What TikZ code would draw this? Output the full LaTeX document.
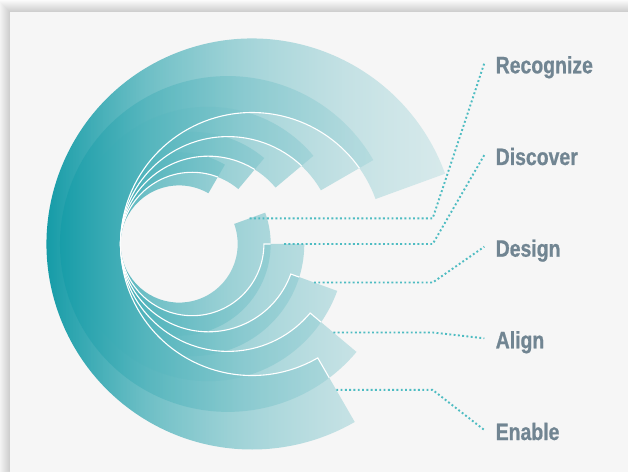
\documentclass[tikz,border=0pt]{standalone}
\usepackage{fontspec}
\usetikzlibrary{calc,fadings}
\newfontfamily\labfamily[FakeStretch=0.82,FakeBold=0.8]{Liberation Sans}
\definecolor{rc0}{RGB}{14,153,165}
\definecolor{rc1}{RGB}{84,181,189}
\definecolor{rc2}{RGB}{130,199,205}
\definecolor{rc3}{RGB}{160,211,216}
\definecolor{rc4}{RGB}{178,219,222}
\definecolor{cardbg}{RGB}{246,246,246}
\definecolor{labcol}{RGB}{113,133,146}
\definecolor{dotcol}{RGB}{78,188,194}
\pgfdeclarehorizontalshading{ringshade}{100bp}{color(0bp)=(rc0); color(25bp)=(rc0); color(37.5bp)=(rc1); color(50bp)=(rc2); color(62.5bp)=(rc3); color(75bp)=(rc4); color(100bp)=(rc4)}
\tikzfading[name=ringfade, left color=transparent!3, right color=transparent!55]
\newcommand\ringp[5]{([shift={(#4:#3)}]#1,227) arc[start angle=#4,end angle=#5,radius=#3] -- ([shift={(#5:#2)}]#1,227) arc[start angle=#5,end angle=#4,radius=#2] -- cycle}
\begin{document}
\begin{tikzpicture}[x=1pt,y=1pt,
  conn/.style={draw=dotcol, line width=1.9pt, line cap=butt, dash pattern=on 1.9pt off 2.4pt},
  lab/.style={font=\labfamily\bfseries\fontsize{23.7}{26}\selectfont, text=labcol, anchor=base west, inner sep=0pt},
  wline/.style={draw=white, line width=1.1pt}]
\useasboundingbox (0,0) rectangle (628,471);
\clip (0,0) rectangle (628,471);
\fill[white] (0,0) rectangle (628,471);
\foreach \i in {1,...,12} \fill[black, opacity=0.016] (10-\i,-30) rectangle (660,459+\i);
\fill[cardbg] (10,-30) rectangle (660,459);
% rings
\foreach \cx/\ri/\ro/\at/\ab in {252.0/131.5/205.5/20/300, 227.9/107.4/167.9/30/320, 208.3/87.8/137.2/40/340, 192.2/71.7/112.1/50/360, 179.1/58.6/91.6/60/380}{
  \begin{scope}
    \clip \ringp{\cx}{\ri}{\ro}{\at}{\ab};
    \shade[shading=ringshade, path fading=ringfade] (46,10) rectangle (446,445);
  \end{scope}
}
% white edges
\foreach \cx/\ri/\ro/\at/\ab/\nx/\nri/\nro/\nat/\nab in {252.0/131.5/205.5/20/300/227.9/107.4/167.9/30/320, 227.9/107.4/167.9/30/320/208.3/87.8/137.2/40/340, 208.3/87.8/137.2/40/340/192.2/71.7/112.1/50/360, 192.2/71.7/112.1/50/360/179.1/58.6/91.6/60/380}{
  \begin{scope}
    \clip \ringp{\nx}{\nri}{\nro}{\nat}{\nab};
    \draw[wline] \ringp{\cx}{\ri}{\ro}{\at}{\ab};
  \end{scope}
}
\coordinate (e1) at ([shift={(300:168.5)}]252,227);
\coordinate (e2) at ([shift={(320:137.65)}]227.9,227);
\coordinate (e3) at ([shift={(340:112.5)}]208.3,227);
\coordinate (e4) at ([shift={(360:91.9)}]192.2,227);
\coordinate (e5) at ([shift={(380:75.1)}]179.1,227);
\coordinate (bx) at (432.7,0);
\node[lab] (lRec) at (495.5,397.7) {Recognize};
\node[lab] (lDis) at (495.5,306) {Discover};
\node[lab] (lDes) at (495.5,214.3) {Design};
\node[lab] (lAli) at (495.5,122.7) {Align};
\node[lab] (lEna) at (495.5,31) {Enable};
\draw[conn] (e5) -- (e5 -| bx) -- ($(lRec.base west)+(-11.2,10)$);
\draw[conn] (e4) -- (e4 -| bx) -- ($(lDis.base west)+(-11.2,10)$);
\draw[conn] (e3) -- (e3 -| bx) -- ($(lDes.base west)+(-11.2,10)$);
\draw[conn] (e2) -- (e2 -| bx) -- ($(lAli.base west)+(-11.2,10)$);
\draw[conn] (e1) -- (e1 -| bx) -- ($(lEna.base west)+(-11.2,10)$);
\end{tikzpicture}
\end{document}
